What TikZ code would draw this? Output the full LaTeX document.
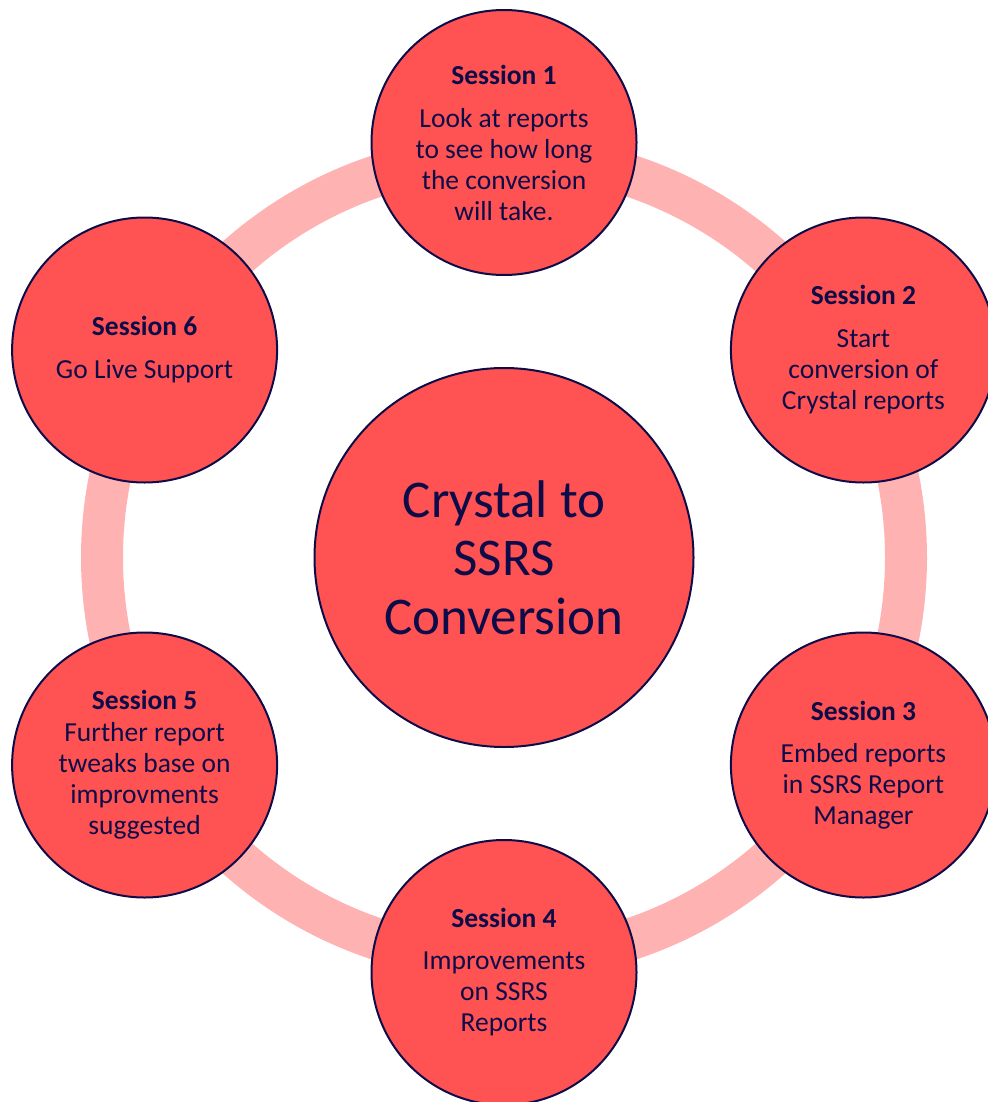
\documentclass[tikz,border=0pt]{standalone}
\usepackage{fontspec}
\setmainfont{Carlito}
\definecolor{navy}{RGB}{14,12,72}
\definecolor{redfill}{RGB}{255,82,82}
\definecolor{ringpink}{RGB}{255,178,178}
\begin{document}
\begin{tikzpicture}[x=1pt,y=-1pt,
  session/.style={circle, draw=navy, line width=2pt, fill=redfill, minimum size=265pt, inner sep=0pt,
    align=center, text=navy, font=\fontsize{27.5}{31}\selectfont},
  hub/.style={circle, draw=navy, line width=2pt, fill=redfill, minimum size=379pt, inner sep=0pt,
    align=center, text=navy, font=\fontsize{53}{58.5}\selectfont},
  ring/.style={draw=ringpink, line width=42pt}]
\useasboundingbox (0,0) rectangle (987,1102);
\coordinate (c) at (504,557.5);
\draw[ring] (c) circle[radius=402];
\node[hub] (hub) at (c) {Crystal to\\SSRS\\Conversion};
\node[session] (s1) at (504,142.5) {\textbf{Session 1}\\[12pt]Look at reports\\to see how long\\the conversion\\will take.};
\node[session] (s2) at (863.4,350) {\textbf{Session 2}\\[12pt]Start\\conversion of\\Crystal reports};
\node[session] (s3) at (863.4,765) {\textbf{Session 3}\\[11pt]Embed reports\\in SSRS Report\\Manager};
\node[session] (s4) at (504,972.5) {\textbf{Session 4}\\[11pt]Improvements\\on SSRS\\Reports};
\node[session] (s5) at (144.6,765) {\textbf{Session 5}\\[1pt]Further report\\tweaks base on\\improvments\\suggested};
\node[session] (s6) at (144.6,350) {\textbf{Session 6}\\[12pt]Go Live Support};
\end{tikzpicture}
\end{document}
